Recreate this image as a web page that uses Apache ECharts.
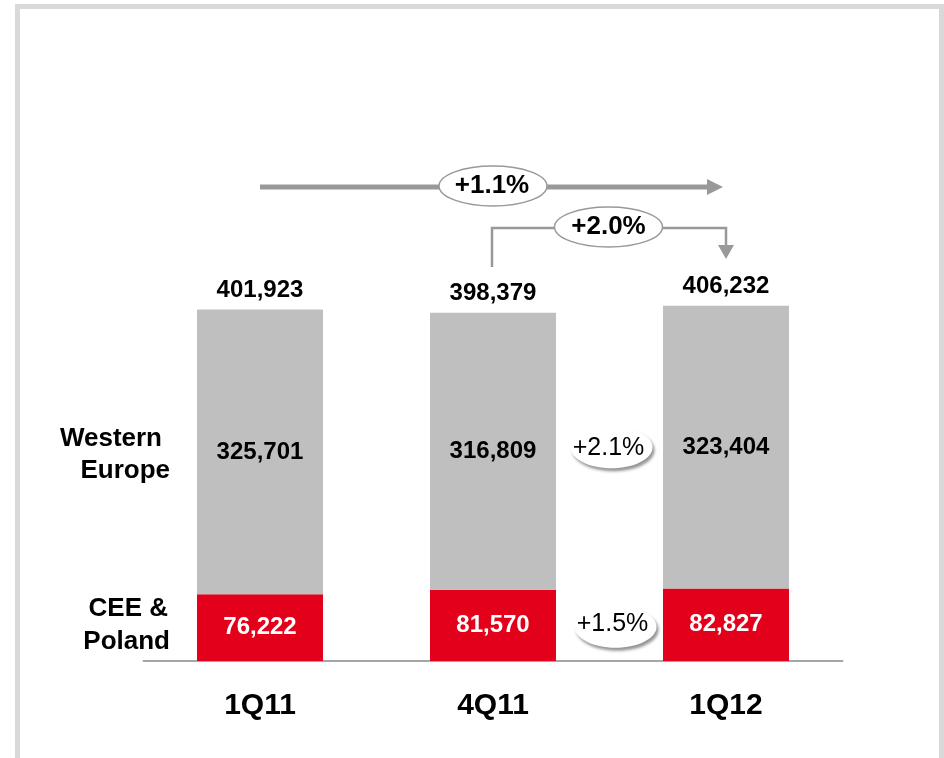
<!DOCTYPE html>
<html>
<head>
<meta charset="utf-8">
<script src="https://cdn.jsdelivr.net/npm/echarts@6/dist/echarts.min.js"></script>
<style>
  html, body { margin: 0; padding: 0; background: #ffffff; }
  #chart { width: 944px; height: 758px; }
</style>
</head>
<body>
<div id="chart"></div>
<script>
// Quarterly volumes split by region
const quarters = ['1Q11', '4Q11', '1Q12'];
const westernEurope = [325701, 316809, 323404];
const ceePoland = [76222, 81570, 82827];
const totals = [401923, 398379, 406232];

// Growth annotations
const growthYoY = '+1.1%';      // 1Q11 -> 1Q12
const growthQoQ = '+2.0%';      // 4Q11 -> 1Q12
const growthWestern = '+2.1%';
const growthCee = '+1.5%';

const FONT = '"Liberation Sans", Arial, sans-serif';
const GREY = '#bfbfbf';
const RED = '#e2001a';
const LINE = '#999999';

const fmt = v => v.toLocaleString('en-US');

const chart = echarts.init(document.getElementById('chart'), null, { renderer: 'canvas' });

chart.setOption({
  animation: false,
  backgroundColor: '#ffffff',
  grid: { left: 143.5, right: 101.5, top: 49, bottom: 97 },
  xAxis: {
    type: 'category',
    data: quarters,
    axisTick: { show: false },
    axisLine: { lineStyle: { color: '#a6a6a6', width: 2 } },
    axisLabel: {
      margin: 30,
      fontFamily: FONT,
      fontWeight: 'bold',
      fontSize: 30,
      color: '#000000'
    }
  },
  yAxis: {
    type: 'value',
    min: 0,
    max: 700000,
    show: false,
    splitLine: { show: false }
  },
  series: [
    {
      name: 'CEE & Poland',
      type: 'bar',
      stack: 'total',
      barWidth: 126,
      barGap: '-100%',
      data: ceePoland,
      itemStyle: { color: RED },
      label: {
        show: true,
        position: 'inside',
        formatter: p => fmt(p.value),
        fontFamily: FONT,
        fontWeight: 'bold',
        fontSize: 24,
        color: '#ffffff'
      },
      z: 3
    },
    {
      name: 'Western Europe',
      type: 'bar',
      stack: 'total',
      barWidth: 126,
      barGap: '-100%',
      data: westernEurope,
      itemStyle: { color: GREY },
      label: {
        show: true,
        position: 'inside',
        formatter: p => fmt(p.value),
        fontFamily: FONT,
        fontWeight: 'bold',
        fontSize: 24,
        color: '#000000'
      },
      z: 3
    },
    {
      // invisible total bar carrying the total label above each stack
      name: 'Total',
      type: 'bar',
      barWidth: 126,
      barGap: '-100%',
      data: totals,
      itemStyle: { color: 'rgba(255,255,255,0)' },
      label: {
        show: true,
        position: 'top',
        distance: 7,
        formatter: p => fmt(p.value),
        fontFamily: FONT,
        fontWeight: 'bold',
        fontSize: 24,
        color: '#000000'
      },
      z: 1
    }
  ]
});

// Annotation layer: positions derived from the axes
function px(i, v) {
  return chart.convertToPixel({ xAxisIndex: 0, yAxisIndex: 0 }, [quarters[i], v]);
}

const c0 = px(0, 0);
const c1 = px(1, 0);
const c2 = px(2, 0);
const barHalf = 63;
const westMid0 = px(0, ceePoland[0] + westernEurope[0] / 2)[1];
const ceeMid0 = px(0, ceePoland[0] / 2)[1];
const westMid2 = px(2, ceePoland[2] + westernEurope[2] / 2)[1];
const ceeMid2 = px(2, ceePoland[2] / 2)[1];
const gapX = ((c1[0] + barHalf) + (c2[0] - barHalf)) / 2;

const yTop = 187;
const yMid = 228;

const bubbleShadow = {
  fill: '#ffffff',
  shadowColor: 'rgba(0,0,0,0.42)', shadowBlur: 3, shadowOffsetX: 2, shadowOffsetY: 3
};

const graphics = [
  // frame
  {
    type: 'rect',
    shape: { x: 17.5, y: 6.5, width: 924, height: 800 },
    style: { fill: 'none', stroke: '#d9d9d9', lineWidth: 5 },
    z: 0
  },
  // long arrow 1Q11 -> 1Q12
  {
    type: 'line',
    shape: { x1: c0[0], y1: yTop, x2: c2[0] - 18, y2: yTop },
    style: { stroke: LINE, lineWidth: 5 },
    z: 10
  },
  {
    type: 'polygon',
    shape: { points: [[c2[0] - 19, yTop - 8], [c2[0] - 19, yTop + 8], [c2[0] - 3, yTop]] },
    style: { fill: LINE },
    z: 10
  },
  {
    type: 'ellipse',
    shape: { cx: c1[0], cy: yTop - 1, rx: 54, ry: 20 },
    style: { fill: '#ffffff', stroke: LINE, lineWidth: 1.5 },
    z: 11
  },
  {
    type: 'text',
    x: c1[0] - 1, y: yTop - 1,
    style: {
      text: growthYoY, align: 'center', verticalAlign: 'middle',
      font: 'bold 26px ' + FONT, fill: '#000000'
    },
    z: 12
  },
  // bracket arrow 4Q11 -> 1Q12
  {
    type: 'polyline',
    shape: { points: [[c1[0] - 1, 267], [c1[0] - 1, yMid], [c2[0], yMid], [c2[0], 246]] },
    style: { stroke: LINE, lineWidth: 2.5, fill: 'none' },
    z: 10
  },
  {
    type: 'polygon',
    shape: { points: [[c2[0] - 8, 245], [c2[0] + 8, 245], [c2[0], 259]] },
    style: { fill: LINE },
    z: 10
  },
  {
    type: 'ellipse',
    shape: { cx: (c1[0] + c2[0]) / 2 - 1, cy: yMid - 1, rx: 54, ry: 20 },
    style: { fill: '#ffffff', stroke: LINE, lineWidth: 1.5 },
    z: 11
  },
  {
    type: 'text',
    x: (c1[0] + c2[0]) / 2 - 1, y: yMid - 1,
    style: {
      text: growthQoQ, align: 'center', verticalAlign: 'middle',
      font: 'bold 26px ' + FONT, fill: '#000000'
    },
    z: 12
  },
  // segment growth bubbles between 4Q11 and 1Q12
  {
    type: 'ellipse',
    shape: { cx: gapX + 2, cy: westMid2, rx: 41, ry: 21 },
    style: bubbleShadow,
    z: 11
  },
  {
    type: 'text',
    x: gapX - 1, y: westMid2 + 1,
    style: {
      text: growthWestern, align: 'center', verticalAlign: 'middle',
      font: '25px ' + FONT, fill: '#000000'
    },
    z: 12
  },
  {
    type: 'ellipse',
    shape: { cx: gapX + 6, cy: ceeMid2 + 2, rx: 41, ry: 21 },
    style: bubbleShadow,
    z: 11
  },
  {
    type: 'text',
    x: gapX + 3, y: ceeMid2 - 1,
    style: {
      text: growthCee, align: 'center', verticalAlign: 'middle',
      font: '25px ' + FONT, fill: '#000000'
    },
    z: 12
  },
  // region labels left of the first bar
  {
    type: 'text',
    x: c0[0] - barHalf - 35, y: westMid0 - 13,
    style: {
      text: 'Western', align: 'right', verticalAlign: 'middle',
      font: 'bold 26px ' + FONT, fill: '#000000'
    },
    z: 12
  },
  {
    type: 'text',
    x: c0[0] - barHalf - 27, y: westMid0 + 19,
    style: {
      text: 'Europe', align: 'right', verticalAlign: 'middle',
      font: 'bold 26px ' + FONT, fill: '#000000'
    },
    z: 12
  },
  {
    type: 'text',
    x: c0[0] - barHalf - 29, y: ceeMid0 - 19,
    style: {
      text: 'CEE &', align: 'right', verticalAlign: 'middle',
      font: 'bold 26px ' + FONT, fill: '#000000'
    },
    z: 12
  },
  {
    type: 'text',
    x: c0[0] - barHalf - 27, y: ceeMid0 + 14,
    style: {
      text: 'Poland', align: 'right', verticalAlign: 'middle',
      font: 'bold 26px ' + FONT, fill: '#000000'
    },
    z: 12
  }
];

chart.setOption({ graphic: { elements: graphics } });
</script>
</body>
</html>
